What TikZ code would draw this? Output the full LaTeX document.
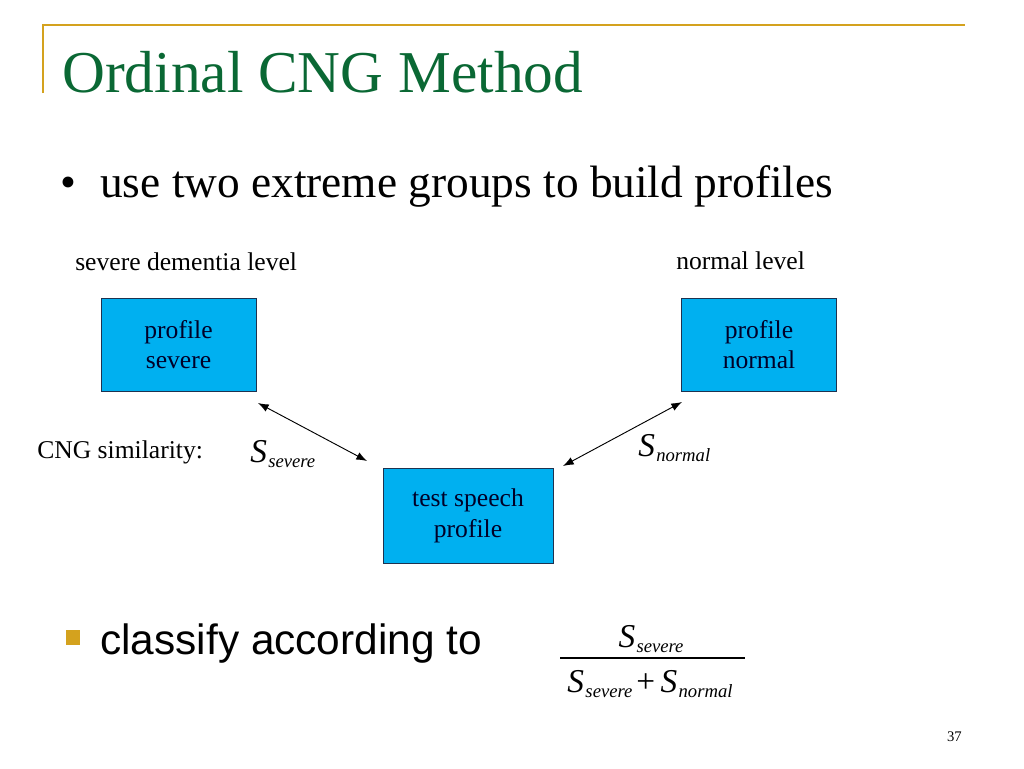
\documentclass[tikz,border=0pt]{standalone}
\usepackage{fontspec}
\setmainfont{Liberation Serif}
\newfontfamily\arialfont{Liberation Sans}
\usetikzlibrary{arrows.meta}
\definecolor{gold}{RGB}{212,162,30}
\definecolor{titlegreen}{RGB}{10,104,52}
\definecolor{boxblue}{RGB}{0,176,240}
\definecolor{boxline}{RGB}{30,50,80}
\definecolor{boxtext}{RGB}{0,0,40}
\newcommand{\Ssub}[1]{{\fontsize{25}{25}\selectfont\itshape S}\kern1pt\raisebox{-0.42em}{\fontsize{14}{14}\selectfont\itshape #1}}
\begin{document}
\begin{tikzpicture}[x=0.75pt,y=-0.75pt,
  profbox/.style={draw=boxline,line width=0.6pt,fill=boxblue,minimum width=155*0.75pt,minimum height=93*0.75pt,align=center,font=\fontsize{19.2}{23}\selectfont,text=boxtext,inner sep=0pt},
  lbl/.style={font=\fontsize{19.2}{23}\selectfont,inner sep=0pt},
  dbl/.style={{Latex[length=8pt,width=6pt]}-{Latex[length=8pt,width=6pt]},line width=0.7pt}]
\useasboundingbox (0,0) rectangle (1024,768);
% frame
\coordinate (fl) at (43,93);
\coordinate (fc) at (43,25);
\coordinate (fr) at (965,25);
\draw[gold,line width=1.6pt] (fl) -- (fc) -- (fr);
% title
\node[anchor=base west,inner sep=0pt,text=titlegreen,font=\fontsize{44.5}{44.5}\selectfont] (title) at (62,92) {Ordinal CNG Method};
% bullet 1
\node[anchor=base west,inner sep=0pt,font=\fontsize{34}{34}\selectfont] (b1dot) at (60,197) {•};
\node[anchor=base west,inner sep=0pt,font=\fontsize{34}{34}\selectfont] (b1) at (100,197) {use two extreme groups to build profiles};
% level labels
\node[lbl,anchor=base west] (sevlvl) at (75,270) {severe dementia level};
\node[lbl,anchor=base west] (normlvl) at (676,269) {normal level};
% boxes
\node[profbox] (psev) at (178.5,344.5) {profile\\severe};
\node[profbox] (pnorm) at (759,344.5) {profile\\normal};
\node[profbox,minimum width=170*0.75pt,minimum height=95*0.75pt] (test) at (468,515.5) {test speech\\profile};
% arrows
\coordinate (a1s) at (258,403);
\coordinate (a1e) at (367,461);
\coordinate (a2s) at (682,402);
\coordinate (a2e) at (563,466);
\draw[dbl] (a1s) -- (a1e);
\draw[dbl] (a2s) -- (a2e);
% labels
\node[lbl,anchor=base west] (cng) at (37,458) {CNG similarity:};
\node[anchor=base west,inner sep=0pt] (ssev) at (250,462) {\Ssub{severe}};
\node[anchor=base west,inner sep=0pt] (snorm) at (638,456) {\Ssub{normal}};
% bullet 2
\node[fill=gold,minimum width=14*0.75pt,minimum height=15*0.75pt,inner sep=0pt] (sq) at (73,637.5) {};
\node[anchor=base west,inner sep=0pt,font=\arialfont\fontsize{31.8}{31.8}\selectfont] (b2) at (100,654) {classify according to};
% fraction
\node[anchor=base,inner sep=0pt] (num) at (651,647) {\Ssub{severe}};
\coordinate (barl) at (560,658);
\coordinate (barr) at (745,658);
\draw[line width=0.9pt] (barl) -- (barr);
\node[anchor=base,inner sep=0pt] (den) at (650,692) {\Ssub{severe}\hspace{3pt}{\fontsize{25}{25}\selectfont +}\hspace{4pt}\Ssub{normal}};
% page number
\node[anchor=base east,inner sep=0pt,font=\fontsize{11}{12}\selectfont] (pg) at (962,741) {37};
\end{tikzpicture}
\end{document}
